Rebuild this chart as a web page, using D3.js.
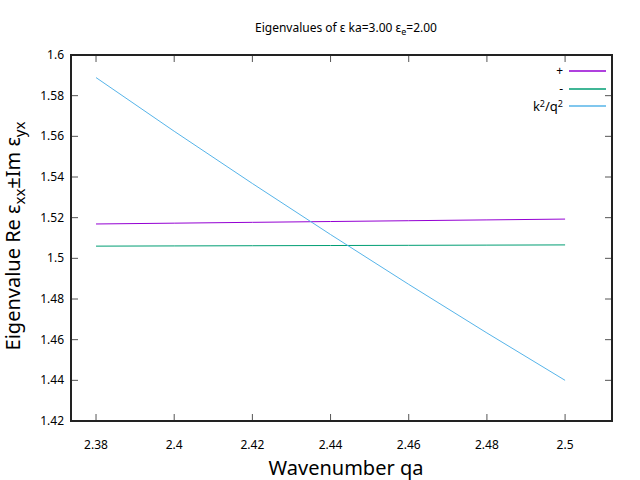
<!DOCTYPE html>
<html>
<head>
<meta charset="utf-8">
<script src="https://cdn.jsdelivr.net/npm/d3@7"></script>
<style>
  body { margin: 0; background: #fff; }
  text { font-family: "Noto Sans", "Open Sans", sans-serif; fill: #000; }
</style>
</head>
<body>
<div id="chart"></div>
<script>
// values
const qa = [2.38, 2.40, 2.42, 2.44, 2.46, 2.48, 2.50];
const plusVals = [1.5169, 1.5173, 1.5177, 1.5181, 1.5185, 1.5189, 1.5193];
const minusVals = [1.5060, 1.5061, 1.5062, 1.5063, 1.5064, 1.5065, 1.5066];
const kqVals = [1.5889, 1.5625, 1.5368, 1.5117, 1.4872, 1.4633, 1.4400];
const xTicks = [2.38, 2.40, 2.42, 2.44, 2.46, 2.48, 2.50];
const yTicks = [1.42, 1.44, 1.46, 1.48, 1.50, 1.52, 1.54, 1.56, 1.58, 1.60];
const seriesNames = ["+", "-", "k2/q2"];
const seriesColors = ["#9400d3", "#009e73", "#56b4e9"];

const width = 640,
      height = 480;
const margin = {left: 71, right: 28, top: 55, bottom: 59};

const svg = d3.select("#chart").append("svg")
    .attr("width", width)
    .attr("height", height);

const x = d3.scaleLinear()
    .domain([2.3736, 2.5120])
    .range([margin.left, width - margin.right]);
const y = d3.scaleLinear()
    .domain([1.42, 1.60])
    .range([height - margin.bottom, margin.top]);

const fmt = d => String(+d.toFixed(2));
const tickLen = 7;

// ticks (inside, mirrored)
const tg = svg.append("g").attr("stroke", "#555").attr("stroke-width", 1);
xTicks.forEach(t => {
    tg.append("line").attr("x1", x(t)).attr("x2", x(t))
      .attr("y1", y.range()[0]).attr("y2", y.range()[0] - tickLen);
    tg.append("line").attr("x1", x(t)).attr("x2", x(t))
      .attr("y1", y.range()[1]).attr("y2", y.range()[1] + tickLen);
});
yTicks.forEach(t => {
    tg.append("line").attr("x1", x.range()[0]).attr("x2", x.range()[0] + tickLen)
      .attr("y1", y(t)).attr("y2", y(t));
    tg.append("line").attr("x1", x.range()[1]).attr("x2", x.range()[1] - tickLen)
      .attr("y1", y(t)).attr("y2", y(t));
});

// tick labels
svg.append("g").selectAll("text").data(xTicks).join("text")
    .attr("x", d => x(d))
    .attr("y", y.range()[0] + 28)
    .attr("text-anchor", "middle")
    .attr("font-size", 12)
    .text(fmt);
svg.append("g").selectAll("text").data(yTicks).join("text")
    .attr("x", x.range()[0] - 7)
    .attr("y", d => y(d) + 4)
    .attr("text-anchor", "end")
    .attr("font-size", 12)
    .text(fmt);

// series
const series = [plusVals, minusVals, kqVals];
const line = d3.line()
    .x((d, i) => x(qa[i]))
    .y(d => y(d));
series.forEach((vals, k) => {
    svg.append("path")
        .datum(vals)
        .attr("fill", "none")
        .attr("stroke", seriesColors[k])
        .attr("stroke-width", 1)
        .attr("d", line);
});

// border
svg.append("rect")
    .attr("x", x.range()[0])
    .attr("y", y.range()[1])
    .attr("width", x.range()[1] - x.range()[0])
    .attr("height", y.range()[0] - y.range()[1])
    .attr("fill", "none")
    .attr("stroke", "#222")
    .attr("stroke-width", 2);

// legend
const legRows = [71, 89, 106];
seriesNames.forEach((name, k) => {
    const ly = legRows[k];
    const t = svg.append("text")
        .attr("x", 563)
        .attr("y", ly + 5)
        .attr("text-anchor", "end")
        .attr("font-size", 13);
    if (name === "k2/q2") {
        t.append("tspan").text("k");
        t.append("tspan").attr("dy", -4).attr("font-size", 9).text("2");
        t.append("tspan").attr("dy", 4).text("/q");
        t.append("tspan").attr("dy", -4).attr("font-size", 9).text("2");
    } else {
        t.attr("font-size", 12).attr("y", ly + 4).text(name);
    }
    svg.append("line")
        .attr("x1", 569).attr("x2", 606)
        .attr("y1", ly).attr("y2", ly)
        .attr("stroke", seriesColors[k])
        .attr("stroke-width", 1.5);
});

// title
const title = svg.append("text")
    .attr("x", 346)
    .attr("y", 32)
    .attr("text-anchor", "middle")
    .attr("font-size", 12);
title.append("tspan").text("Eigenvalues of ε ka=3.00 ε");
title.append("tspan").attr("dy", 3).attr("font-size", 9).text("e");
title.append("tspan").attr("dy", -3).text("=2.00");

// axis labels
svg.append("text")
    .attr("x", 346)
    .attr("y", 475)
    .attr("text-anchor", "middle")
    .attr("font-size", 20)
    .text("Wavenumber qa");

const yl = svg.append("text")
    .attr("transform", "translate(20,236) rotate(-90)")
    .attr("text-anchor", "middle")
    .attr("font-size", 20);
yl.append("tspan").text("Eigenvalue Re ε");
yl.append("tspan").attr("dy", 5).attr("font-size", 15).text("xx");
yl.append("tspan").attr("dy", -5).text("±Im ε");
yl.append("tspan").attr("dy", 5).attr("font-size", 15).text("yx");
</script>
</body>
</html>
